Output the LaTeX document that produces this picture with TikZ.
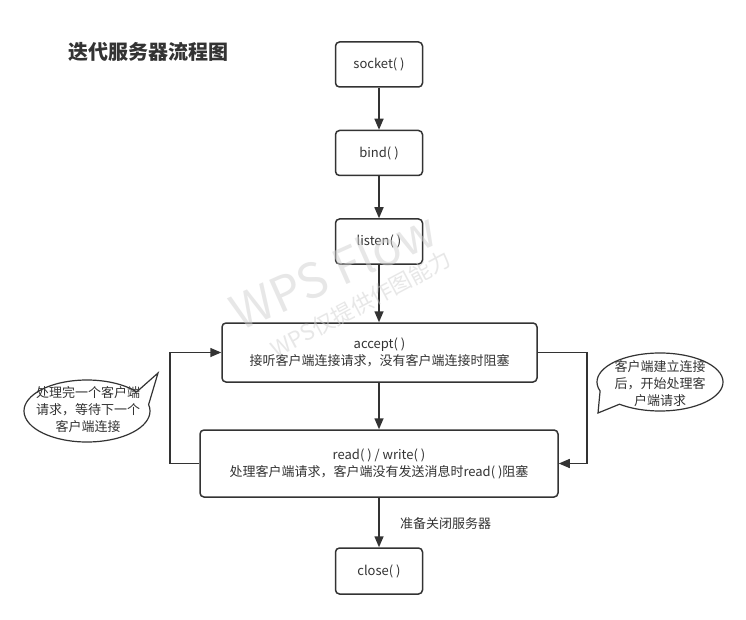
\documentclass[tikz,border=0pt]{standalone}
\usepackage{fontspec}
\setmainfont{Noto Sans CJK SC}
\usetikzlibrary{arrows.meta}
\definecolor{ink}{HTML}{333333}
\definecolor{wm}{HTML}{D0D0D0}
\tikzset{
  box/.style={draw=ink, line width=1.5pt, rounded corners=4pt, fill=white,
    text=ink, align=center, font=\fontsize{13}{17}\selectfont, inner sep=0pt},
  smallbox/.style={box, minimum width=87pt, minimum height=45pt},
  flow/.style={draw=ink, line width=1.5pt, -{Triangle[length=11pt,width=9pt]}},
  bubble/.style={draw=ink, line width=1.2pt, fill=white},
  btext/.style={text=ink, align=center, font=\fontsize{13}{17}\selectfont, inner sep=0pt},
  wmark/.style={text=wm, text opacity=0.5, inner sep=0pt}
}
\begin{document}
\begin{tikzpicture}[x=1pt,y=-1pt]
\useasboundingbox (0,0) rectangle (746,620);
\fill[white] (0,0) rectangle (746,620);
% title
\node[text=ink, font=\fontsize{20}{20}\selectfont\bfseries, inner sep=0pt] (title) at (148,52) {迭代服务器流程图};
% boxes
\node[smallbox] (socket) at (379,64.5) {socket( )};
\node[smallbox] (bind) at (379,153) {bind( )};
\node[smallbox] (listen) at (379,241.5) {listen( )};
\node[box, minimum width=315pt, minimum height=59pt] (accept) at (379.5,352.5) {accept( )\\接听客户端连接请求，没有客户端连接时阻塞};
\node[box, minimum width=358pt, minimum height=67pt] (rw) at (379,463.5) {read( ) / write( )\\处理客户端请求，客户端没有发送消息时read( )阻塞};
\node[smallbox, minimum height=46pt] (close) at (379,571) {close( )};
% connectors
\draw[flow] (socket) -- (bind);
\draw[flow] (bind) -- (listen);
\draw[flow] (listen.south) -- (listen.south |- accept.north);
\draw[flow] (listen.south |- accept.south) -- (listen.south |- rw.north);
\draw[flow] (listen.south |- rw.south) -- (close.north);
\node[text=ink, font=\fontsize{13}{17}\selectfont, anchor=west, inner sep=0pt] (closelbl) at (400,524) {准备关闭服务器};
\coordinate (lloop) at (170,463.5);
\coordinate (rloop) at (587,352.5);
\draw[flow] (rw.west) -- (lloop) |- (accept.west);
\draw[flow] (accept.east) -- (rloop) |- (rw.east);
% left callout
\draw[bubble] ([shift={(-12:63 and 31)}]87,411) arc[start angle=-12, end angle=322, x radius=63, y radius=31] -- (158,373) -- cycle;
\node[btext] (lnote) at (88,410) {处理完一个客户端\\请求，等待下一个\\客户端连接};
% right callout
\draw[bubble] ([shift={(162:63 and 29)}]660,382) arc[start angle=162, end angle=490, x radius=63, y radius=29] -- (598,413) -- cycle;
\node[btext] (rnote) at (660,384) {客户端建立连接\\后，开始处理客\\户端请求};
% watermark (on top, faint)
\node[wmark, rotate=24, font=\fontsize{48}{48}\selectfont] (wm1) at (333,270) {WPS Flow};
\node[wmark, rotate=28, font=\fontsize{22}{22}\selectfont] (wm2) at (361,304) {WPS仅提供作图能力};
\end{tikzpicture}
\end{document}
